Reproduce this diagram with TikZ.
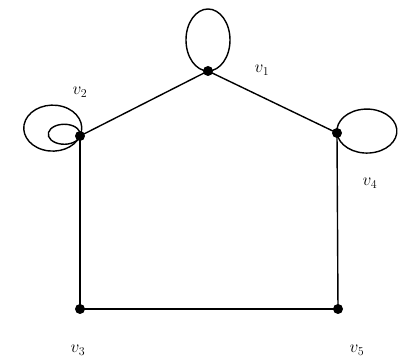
\documentclass[tikz,border=0pt]{standalone}
\begin{document}
\begin{tikzpicture}[x=1pt,y=1pt,
  vtx/.style={circle,fill=black,inner sep=0pt,minimum size=10pt},
  edge/.style={line width=1.4pt},
  lbl/.style={font=\LARGE}]
\useasboundingbox (0,0) rectangle (400,363);
\node[vtx] (v1) at (208,292) {};
\node[vtx] (v2) at (80,227) {};
\node[vtx] (v4) at (337,230) {};
\node[vtx] (v3) at (80,54) {};
\node[vtx] (v5) at (338,54) {};
\draw[edge] (v1.center) -- (v2.center);
\draw[edge] (v1.center) -- (v4.center);
\draw[edge] (v2.center) -- (v3.center);
\draw[edge] (v3.center) -- (v5.center);
\draw[edge] (v4.center) -- (v5.center);
\draw[edge] (v1.center) arc[start angle=-90,end angle=270,x radius=22pt,y radius=31pt];
\draw[edge] (v4.center) arc[start angle=185,end angle=545,x radius=30pt,y radius=22pt];
\draw[edge] (v2.center) arc[start angle=-20,end angle=340,x radius=29pt,y radius=23pt];
\draw[edge] (v2.center) arc[start angle=-10,end angle=350,x radius=16pt,y radius=10pt];
\node[lbl] (l1) at (262,293) {$v_1$};
\node[lbl] (l2) at (80,271) {$v_2$};
\node[lbl] (l4) at (370,180) {$v_4$};
\node[lbl] (l3) at (78,13) {$v_3$};
\node[lbl] (l5) at (357,13) {$v_5$};
\end{tikzpicture}
\end{document}
